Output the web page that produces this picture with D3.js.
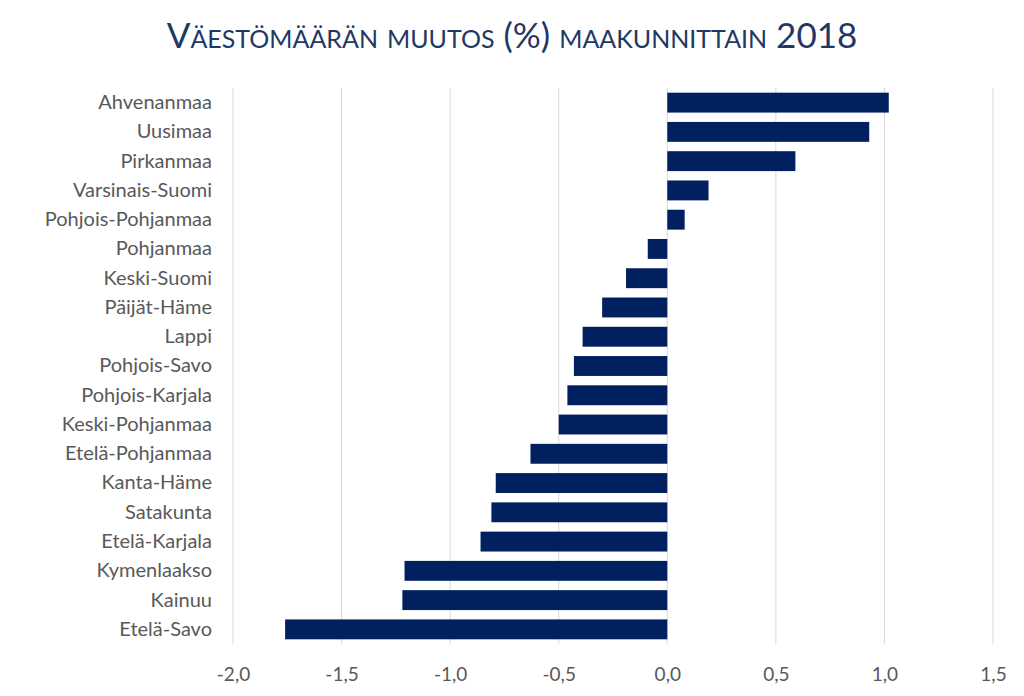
<!DOCTYPE html>
<html>
<head>
<meta charset="utf-8">
<script src="https://cdn.jsdelivr.net/npm/d3@7"></script>
<style>
  body { margin: 0; background: #fff; }
  svg text { font-family: Lato, "Open Sans", sans-serif; }
</style>
</head>
<body>
<div id="chart"></div>
<script>
'use strict'

const regions = [
  'Ahvenanmaa', 'Uusimaa', 'Pirkanmaa', 'Varsinais-Suomi', 'Pohjois-Pohjanmaa',
  'Pohjanmaa', 'Keski-Suomi', 'Päijät-Häme', 'Lappi', 'Pohjois-Savo',
  'Pohjois-Karjala', 'Keski-Pohjanmaa', 'Etelä-Pohjanmaa', 'Kanta-Häme',
  'Satakunta', 'Etelä-Karjala', 'Kymenlaakso', 'Kainuu', 'Etelä-Savo'
]
const changes = [
  1.02, 0.93, 0.59, 0.19, 0.08,
  -0.09, -0.19, -0.30, -0.39, -0.43,
  -0.46, -0.50, -0.63, -0.79, -0.81,
  -0.86, -1.21, -1.22, -1.76
]
const xTicks = [-2.0, -1.5, -1.0, -0.5, 0.0, 0.5, 1.0, 1.5]
const title = 'Väestömäärän muutos (%) maakunnittain 2018'

function drawChart () {
  const width = 1024
  const height = 696
  const margin = { top: 88, right: 32, bottom: 52, left: 233 }
  const data = regions.map((r, i) => ({ region: r, value: changes[i] }))

  const svg = d3.select('#chart')
    .append('svg')
    .attr('width', width)
    .attr('height', height)

  const x = d3.scaleLinear()
    .domain([-2.0, 1.5])
    .range([margin.left, width - margin.right + 1])
  const y = d3.scaleBand()
    .domain(regions)
    .range([margin.top, height - margin.bottom])
    .paddingInner(0.32)
    .paddingOuter(0.16)

  svg.append('text')
    .attr('x', width / 2)
    .attr('y', 48)
    .attr('text-anchor', 'middle')
    .attr('fill', '#1f3864')
    .style('font-size', '35px')
    .style('font-variant', 'small-caps')
    .text(title)

  // gridlines
  svg.append('g')
    .selectAll('line')
    .data(xTicks)
    .enter()
    .append('line')
    .attr('x1', d => x(d))
    .attr('x2', d => x(d))
    .attr('y1', margin.top)
    .attr('y2', height - margin.bottom)
    .attr('stroke', '#d9d9d9')
    .attr('stroke-width', 1)

  svg.append('g')
    .selectAll('rect')
    .data(data)
    .enter()
    .append('rect')
    .attr('x', d => x(Math.min(0, d.value)))
    .attr('width', d => Math.abs(x(d.value) - x(0)))
    .attr('y', d => y(d.region))
    .attr('height', y.bandwidth())
    .attr('fill', '#002060')

  // x axis
  const xAxis = svg.append('g')
    .attr('transform', `translate(0,${height - margin.bottom})`)
    .call(d3.axisBottom(x).tickValues(xTicks).tickSize(0).tickPadding(24)
      .tickFormat(d => d3.format('.1f')(d).replace('.', ',').replace('−', '-')))
  xAxis.select('.domain').remove()
  xAxis.selectAll('text')
    .attr('fill', '#595959')
    .style('font-size', '19px')

  // y axis labels
  const yAxis = svg.append('g')
    .attr('transform', `translate(${margin.left},0)`)
    .call(d3.axisLeft(y).tickSize(0).tickPadding(21))
  yAxis.select('.domain').remove()
  yAxis.selectAll('text')
    .attr('fill', '#595959')
    .style('font-size', '20px')
}

drawChart()
</script>
</body>
</html>
